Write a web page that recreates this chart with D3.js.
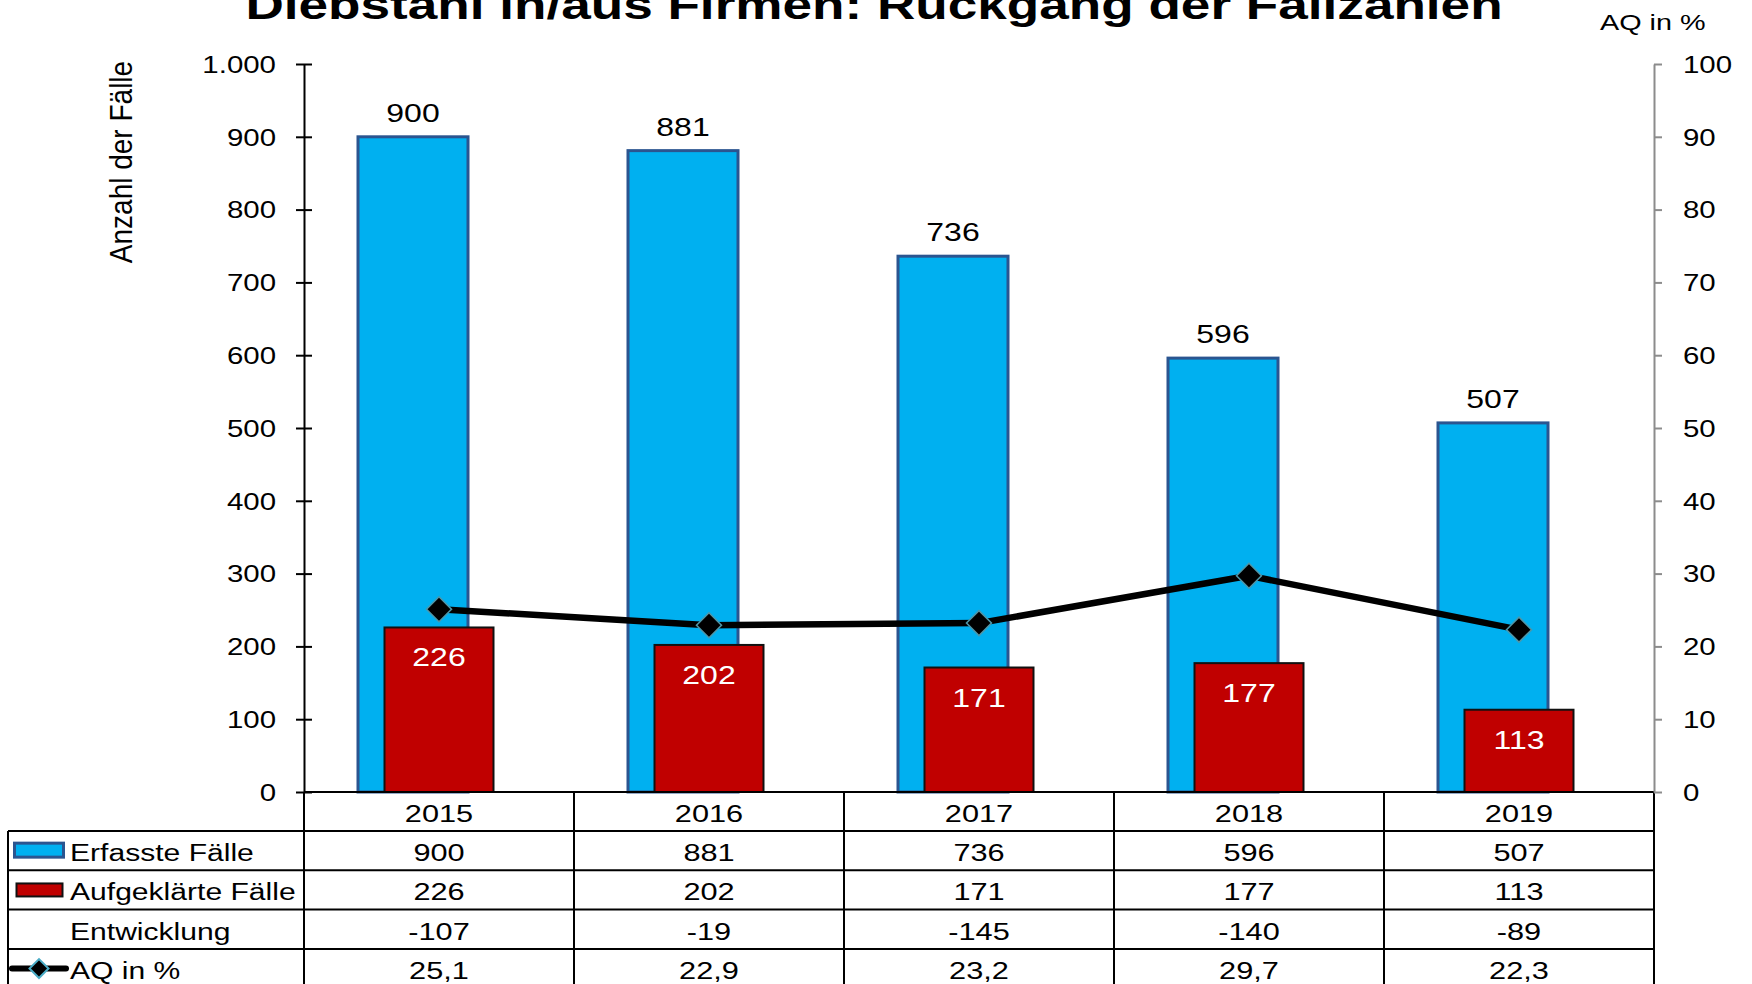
<!DOCTYPE html>
<html>
<head>
<meta charset="utf-8">
<script src="https://cdn.jsdelivr.net/npm/d3@7"></script>
<style>
  body { margin: 0; background: #fff; }
  svg { display: block; }
  text { font-family: 'Liberation Sans', Arial, Helvetica, sans-serif; fill: #000; }
</style>
</head>
<body>
<div id="chart"></div>
<script>
// data
const years = ['2015', '2016', '2017', '2018', '2019']
const erfasst = [900, 881, 736, 596, 507]
const aufgeklaert = [226, 202, 171, 177, 113]
const entwicklung = [-107, -19, -145, -140, -89]
const aq = [25.1, 22.9, 23.2, 29.7, 22.3]
const leftTicks = [0, 100, 200, 300, 400, 500, 600, 700, 800, 900, 1000]
const rightTicks = [0, 10, 20, 30, 40, 50, 60, 70, 80, 90, 100]

const W = 1752
const H = 984
const SX = 1.28 // the original text is drawn wide
const x0 = 304
const x1 = 1654
const yTop = 64
const yBase = 792

const de = d3.formatLocale({ decimal: ',', thousands: '.', grouping: [3], currency: ['', ' €'] })
const fmtInt = de.format(',d')
const fmtDec = de.format(',.1f')

const svg = d3.select('#chart')
  .append('svg')
  .attr('width', W)
  .attr('height', H)

const x = d3.scaleBand().domain(years).range([x0, x1])
const yL = d3.scaleLinear().domain([0, 1000]).range([yBase, yTop])
const yR = d3.scaleLinear().domain([0, 100]).range([yBase, yTop])
const cx = d => x(d) + x.bandwidth() / 2

// wide text helper
function wideText (g, tx, ty, txt, size, anchor) {
  return g.append('text')
    .attr('transform', 'translate(' + tx + ',' + ty + ') scale(' + SX + ',1)')
    .attr('text-anchor', anchor)
    .style('font-size', size + 'px')
    .text(txt)
}

// title and axis titles
wideText(svg, 874, 19, 'Diebstahl in/aus Firmen: Rückgang der Fallzahlen', 41.5, 'middle')
  .style('font-weight', 'bold')
wideText(svg, 1600, 30, 'AQ in %', 22.5, 'start')
svg.append('text')
  .attr('transform', 'translate(132,162) scale(1.12,1) rotate(-90)')
  .attr('text-anchor', 'middle')
  .style('font-size', '28px')
  .text('Anzahl der Fälle')

// blue bars
const blueW = 110
const redW = 109
const blueOff = -26
svg.append('g')
  .selectAll('rect')
  .data(years)
  .join('rect')
  .attr('x', (d, i) => cx(d) + blueOff - blueW / 2)
  .attr('y', (d, i) => yL(erfasst[i]))
  .attr('width', blueW)
  .attr('height', (d, i) => yBase - yL(erfasst[i]))
  .attr('fill', '#00B0F0')
  .attr('stroke', '#2B5590')
  .attr('stroke-width', 3)

// red bars
svg.append('g')
  .selectAll('rect')
  .data(years)
  .join('rect')
  .attr('x', d => cx(d) - redW / 2)
  .attr('y', (d, i) => yL(aufgeklaert[i]))
  .attr('width', redW)
  .attr('height', (d, i) => yBase - yL(aufgeklaert[i]))
  .attr('fill', '#C00000')
  .attr('stroke', '#111')
  .attr('stroke-width', 2)

// bar labels
const lab = svg.append('g')
years.forEach((d, i) => {
  wideText(lab, cx(d) + blueOff, yL(erfasst[i]) - 15, erfasst[i], 25, 'middle')
  wideText(lab, cx(d), yL(aufgeklaert[i]) + 39, aufgeklaert[i], 25, 'middle')
    .style('fill', '#fff')
})

// AQ line
svg.append('path')
  .datum(years)
  .attr('fill', 'none')
  .attr('stroke', '#000')
  .attr('stroke-width', 6.5)
  .attr('stroke-linejoin', 'round')
  .attr('d', d3.line()
    .x(d => cx(d))
    .y((d, i) => yR(aq[i]))
  )

const diamond = d3.symbol().type(d3.symbolSquare)
svg.append('g')
  .selectAll('path')
  .data(years)
  .join('path')
  .attr('transform', (d, i) => 'translate(' + cx(d) + ',' + yR(aq[i]) + ') rotate(45)')
  .attr('d', diamond.size(313)())
  .attr('fill', '#000')
  .attr('stroke', '#4F96A8')
  .attr('stroke-width', 1.5)

// data table
const headH = 39
const rowH = 39.3
const rowTop = i => yBase + headH + i * rowH
const table = svg.append('g')
const line = (ax, ay, bx, by) => table.append('line')
  .attr('x1', ax).attr('y1', ay).attr('x2', bx).attr('y2', by)
  .attr('stroke', '#000').attr('stroke-width', 2)

line(x0, yBase, x1, yBase)
for (let i = 0; i <= 4; i++) line(8, rowTop(i), x1, rowTop(i))
line(8, rowTop(0), 8, H)
years.forEach(d => line(x(d), yBase, x(d), H))
line(x1, yBase, x1, H)

years.forEach(d => wideText(table, cx(d), yBase + 30, d, 24, 'middle'))

const rows = [
  { label: 'Erfasste Fälle', values: erfasst, fmt: fmtInt },
  { label: 'Aufgeklärte Fälle', values: aufgeklaert, fmt: fmtInt },
  { label: 'Entwicklung', values: entwicklung, fmt: d => String(d) },
  { label: 'AQ in %', values: aq, fmt: fmtDec }
]
rows.forEach((r, ri) => {
  const ty = rowTop(ri) + 30
  wideText(table, 70, ty, r.label, 23.5, 'start')
  years.forEach((d, i) => wideText(table, cx(d), ty, r.fmt(r.values[i]).replace('−', '-'), 24, 'middle'))
})

// legend keys in the table
const keyY = i => rowTop(i) + rowH / 2
table.append('rect')
  .attr('x', 14.5).attr('y', keyY(0) - 7.5).attr('width', 49).attr('height', 14)
  .attr('fill', '#00B0F0').attr('stroke', '#2B5590').attr('stroke-width', 3)
table.append('rect')
  .attr('x', 16.5).attr('y', keyY(1) - 6.5).attr('width', 46).attr('height', 13)
  .attr('fill', '#C00000').attr('stroke', '#111').attr('stroke-width', 2)
table.append('line')
  .attr('x1', 12).attr('x2', 66).attr('y1', keyY(3)).attr('y2', keyY(3))
  .attr('stroke', '#000').attr('stroke-width', 6).attr('stroke-linecap', 'round')
table.append('path')
  .attr('transform', 'translate(39,' + keyY(3) + ') rotate(45)')
  .attr('d', diamond.size(180)())
  .attr('fill', '#000')
  .attr('stroke', '#4BACC6')
  .attr('stroke-width', 2)

// left axis
const gL = svg.append('g')
  .attr('transform', 'translate(' + x0 + ',0)')
  .call(d3.axisLeft(yL).tickValues(leftTicks).tickFormat(fmtInt).tickSize(8).tickSizeOuter(0))
gL.select('.domain').attr('stroke', '#000').attr('stroke-width', 2)
gL.selectAll('.tick line').attr('x1', -8).attr('x2', 8).attr('stroke', '#000').attr('stroke-width', 2)
gL.selectAll('.tick text')
  .attr('x', 0)
  .attr('dy', '0.36em')
  .attr('transform', 'translate(-28,0) scale(' + SX + ',1)')
  .style('font-size', '23px')

// right axis
const gR = svg.append('g')
  .attr('transform', 'translate(' + x1 + ',0)')
  .call(d3.axisRight(yR).tickValues(rightTicks).tickSize(8).tickSizeOuter(0))
gR.select('.domain').attr('stroke', '#8c8c8c').attr('stroke-width', 2)
gR.selectAll('.tick line').attr('stroke', '#8c8c8c').attr('stroke-width', 2)
gR.selectAll('.tick text')
  .attr('x', 0)
  .attr('dy', '0.36em')
  .attr('transform', 'translate(29,0) scale(' + SX + ',1)')
  .style('font-size', '23px')
</script>
</body>
</html>
